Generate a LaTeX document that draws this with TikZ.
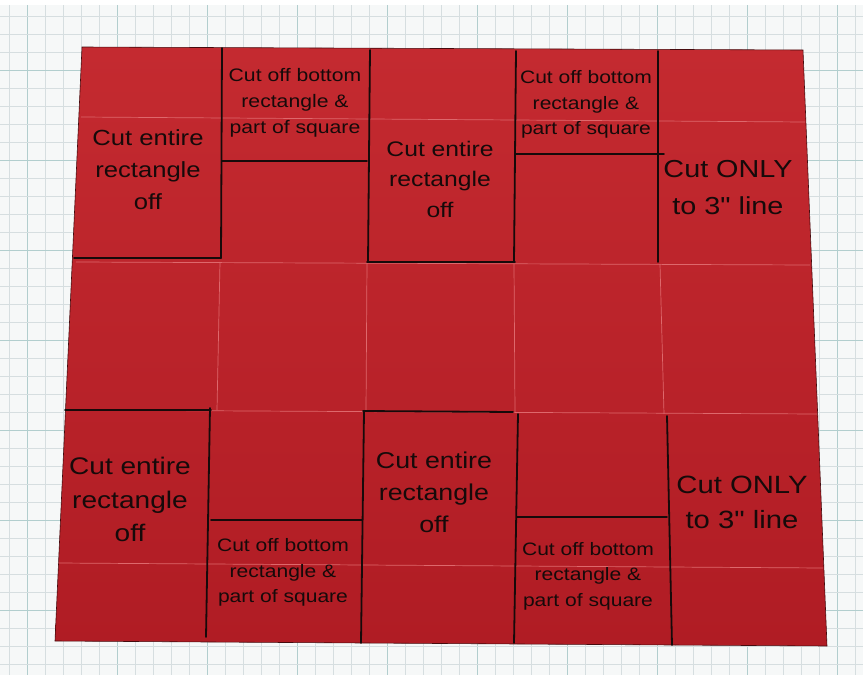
\documentclass[tikz,border=0pt]{standalone}
\usepackage{fontspec}
\setmainfont{Liberation Sans}[FakeStretch=1.17,Ligatures=TeXOff]
\definecolor{paper}{RGB}{246,248,248}
\definecolor{gridminor}{RGB}{214,222,224}
\definecolor{gridmajor}{RGB}{178,206,206}
\definecolor{cardtop}{RGB}{196,42,48}
\definecolor{cardbot}{RGB}{176,28,36}
\definecolor{fold}{RGB}{222,104,108}
\definecolor{ink}{RGB}{22,10,10}
\tikzset{
  cut/.style={draw=ink, line width=1.8pt, line cap=round},
  foldline/.style={draw=fold, line width=0.7pt},
  label/.style={text=ink, align=center, inner sep=0pt},
}
\begin{document}
\begin{tikzpicture}[x=1pt,y=-1pt]
\useasboundingbox (0,0) rectangle (863,675);
% grid paper
\fill[white] (0,0) rectangle (863,675);
\fill[paper] (0,5) rectangle (863,675);
\foreach \i in {0,...,47} {
  \pgfmathtruncatemacro{\m}{mod(\i-6,5)}
  \ifnum\m=0
    \draw[gridmajor, line width=0.8pt] ({9+18*\i},5) -- ({9+18*\i},675);
  \else
    \draw[gridminor, line width=0.6pt] ({9+18*\i},5) -- ({9+18*\i},675);
  \fi
}
\foreach \j in {0,...,36} {
  \pgfmathtruncatemacro{\m}{mod(\j-3,5)}
  \ifnum\m=0
    \draw[gridmajor, line width=0.8pt] (0,{16+18*\j}) -- (863,{16+18*\j});
  \else
    \draw[gridminor, line width=0.6pt] (0,{16+18*\j}) -- (863,{16+18*\j});
  \fi
}
% card
\path[top color=cardtop, bottom color=cardbot] (82,47) -- (803,50) -- (827,646) -- (55,641) -- cycle;
\draw[black!60!cardbot, line width=0.6pt] (82,47) -- (803,50) -- (827,646) -- (55,641) -- cycle;
% fold (score) lines
\draw[foldline] (81,117) -- (805,122);
\draw[foldline] (76,262) -- (810,265);
\draw[foldline] (65,410) -- (817,414);
\draw[foldline] (58,563) -- (823,568);
\draw[foldline] (220,262) -- (217,410);
\draw[foldline] (367,263) -- (366,411);
\draw[foldline] (514,264) -- (515,412);
\draw[foldline] (660,264) -- (664,414);
% cut lines, top half
\draw[cut] (222,48) -- (221,258);
\draw[cut] (74,258) -- (221,258);
\draw[cut] (222,161) -- (367,161);
\draw[cut] (370,50) -- (368,262);
\draw[cut] (367,262) -- (515,262);
\draw[cut] (516,51) -- (514,262);
\draw[cut] (515,154) -- (664,154);
\draw[cut] (658,51) -- (658,262);
% cut lines, bottom half
\draw[cut] (65,410) -- (211,410);
\draw[cut] (210,408) -- (206,637);
\draw[cut] (211,520) -- (362,520);
\draw[cut] (364,412) -- (361,643);
\draw[cut] (363,411) -- (513,412);
\draw[cut] (518,414) -- (514,643);
\draw[cut] (517,517) -- (667,517);
\draw[cut] (667,416) -- (672,645);
% labels, top half
\node[label, font=\fontsize{21.9}{32}\selectfont] (t1) at (148,170) {Cut entire\\rectangle\\off};
\node[label, font=\fontsize{18.1}{26}\selectfont] (t2) at (295,103) {Cut off bottom\\rectangle \&\\part of square};
\node[label, font=\fontsize{21.1}{30.5}\selectfont] (t3) at (440,179) {Cut entire\\rectangle\\off};
\node[label, font=\fontsize{18}{25.5}\selectfont] (t4) at (586,104.5) {Cut off bottom\\rectangle \&\\part of square};
\node[label, font=\fontsize{24.6}{37}\selectfont] (t5) at (728,187.5) {Cut ONLY\\to 3" line};
% labels, bottom half
\node[label, font=\fontsize{24}{33.5}\selectfont] (b1) at (130,499.5) {Cut entire\\rectangle\\off};
\node[label, font=\fontsize{18}{25.5}\selectfont] (b2) at (283,572.5) {Cut off bottom\\rectangle \&\\part of square};
\node[label, font=\fontsize{22.9}{32}\selectfont] (b3) at (434,492) {Cut entire\\rectangle\\off};
\node[label, font=\fontsize{18}{25.5}\selectfont] (b4) at (588,576) {Cut off bottom\\rectangle \&\\part of square};
\node[label, font=\fontsize{25}{35}\selectfont] (b5) at (742,502.5) {Cut ONLY\\to 3" line};
\end{tikzpicture}
\end{document}
